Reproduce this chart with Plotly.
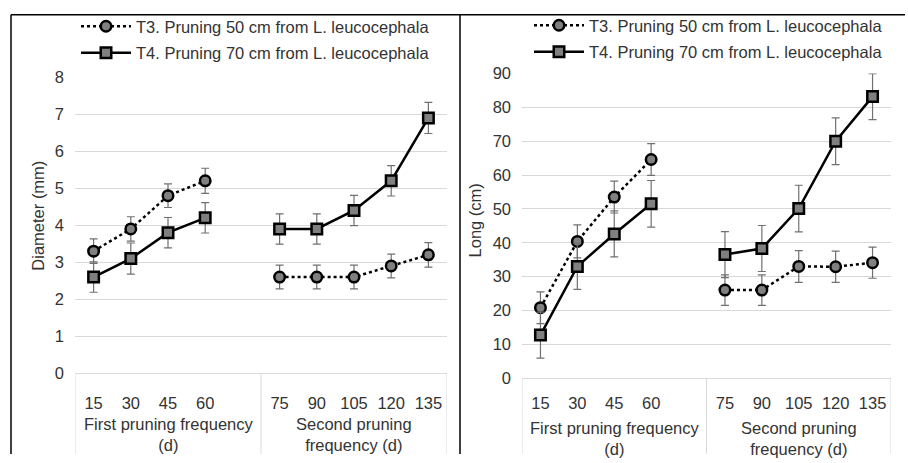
import plotly.graph_objects as go

W, H = 908, 463

# ---------------- data ----------------
categories = ["15", "30", "45", "60", "", "75", "90", "105", "120", "135"]
group_labels = ["First pruning frequency<br>(d)", "Second pruning<br>frequency (d)"]
group_centers = [2, 7]          # category index of group centre
group_divider = 4.5

series_names = ["T3. Pruning 50 cm from L. leucocephala",
                "T4. Pruning 70 cm from L. leucocephala"]

diam_t3 = [3.3, 3.9, 4.8, 5.2, None, 2.6, 2.6, 2.6, 2.9, 3.2]
diam_t4 = [2.6, 3.1, 3.8, 4.2, None, 3.9, 3.9, 4.4, 5.2, 6.9]
diam_t3_err = [0.33, 0.33, 0.32, 0.34, None, 0.32, 0.32, 0.32, 0.32, 0.33]
diam_t4_err = [0.41, 0.42, 0.41, 0.41, None, 0.41, 0.41, 0.41, 0.41, 0.42]

long_t3 = [20.8, 40.4, 53.5, 64.6, None, 26.0, 26.0, 33.0, 32.9, 34.1]
long_t4 = [12.7, 33.0, 42.6, 51.5, None, 36.5, 38.3, 50.1, 70.0, 83.2]
long_t3_err = [4.7, 4.9, 4.7, 4.7, None, 4.5, 4.5, 4.7, 4.6, 4.6]
long_t4_err = [6.8, 6.8, 6.8, 6.9, None, 6.8, 6.8, 6.9, 6.9, 6.8]

y_titles = ["Diameter (mm)", "Long (cm)"]
y_ranges = [(0, 8, 1), (0, 90, 10)]

# ---------------- style ----------------
FONT = "Liberation Sans, Arial, sans-serif"
FS = 16.5
TXT = "#333333"
GRID = "#d9d9d9"
ERR = "#707070"
FILL = "#808080"

xpos = list(range(len(categories)))
tickvals = [i for i, c in enumerate(categories) if c]
ticktext = [c for c in categories if c]

# pixel layout of the two plot areas: (left, right, top, bottom)
panels = [(75, 447, 71, 379), (522, 891, 67.2, 384)]
x_standoff = [15, 10]
group_offset = [41, 41]

fig = go.Figure()

data = [(diam_t3, diam_t3_err, diam_t4, diam_t4_err),
        (long_t3, long_t3_err, long_t4, long_t4_err)]

for p, (t3, t3e, t4, t4e) in enumerate(data):
    xa = "x" if p == 0 else "x2"
    ya = "y" if p == 0 else "y2"
    lg = "legend" if p == 0 else "legend2"
    fig.add_trace(go.Scatter(
        x=xpos, y=t3, mode="lines+markers", name=series_names[0],
        xaxis=xa, yaxis=ya, legend=lg, legendgroup=f"a{p}",
        line=dict(color="black", width=2.5, dash="dot"),
        marker=dict(symbol="circle", size=10.5, color=FILL,
                    line=dict(color="black", width=2.5)),
        error_y=dict(type="data", array=t3e, visible=True, color=ERR,
                     thickness=1.2, width=4),
        connectgaps=False))
    fig.add_trace(go.Scatter(
        x=xpos, y=t4, mode="lines+markers", name=series_names[1],
        xaxis=xa, yaxis=ya, legend=lg, legendgroup=f"b{p}",
        line=dict(color="black", width=2.5),
        marker=dict(symbol="square", size=10.5, color=FILL,
                    line=dict(color="black", width=2.5)),
        error_y=dict(type="data", array=t4e, visible=True, color=ERR,
                     thickness=1.2, width=4),
        connectgaps=False))

layout = dict(
    width=W, height=H, margin=dict(l=0, r=0, t=0, b=0),
    paper_bgcolor="white", plot_bgcolor="white",
    font=dict(family=FONT, size=FS, color=TXT),
    showlegend=True,
)

shapes = []
annotations = []
for p, (l, r, t, b) in enumerate(panels):
    sx = "" if p == 0 else "2"
    y0, y1, dt = y_ranges[p]
    layout[f"xaxis{sx}"] = dict(
        domain=[l / W, r / W], range=[-0.5, len(categories) - 0.5],
        anchor=f"y{sx}", tickmode="array", tickvals=tickvals, ticktext=ticktext,
        showgrid=False, zeroline=False, showline=True, linecolor=GRID,
        linewidth=1, ticks="", ticklabelstandoff=x_standoff[p],
        tickfont=dict(size=FS, color=TXT, family=FONT), fixedrange=True)
    layout[f"yaxis{sx}"] = dict(
        domain=[1 - b / H, 1 - t / H], range=[y0, y1], dtick=dt,
        anchor=f"x{sx}", showgrid=True, gridcolor=GRID, gridwidth=1,
        zeroline=False, showline=False, ticks="", ticklabelstandoff=10,
        tickfont=dict(size=FS, color=TXT, family=FONT), fixedrange=True)
    # category box dividers
    for xv in [-0.5, group_divider, len(categories) - 0.5]:
        shapes.append(dict(type="line", xref=f"x{sx}", yref="paper",
                           x0=xv, x1=xv, y0=0, y1=1 - b / H,
                           line=dict(color=GRID, width=1)))
    # group labels
    for gc, gl in zip(group_centers, group_labels):
        annotations.append(dict(xref=f"x{sx}", yref="paper", x=gc,
                                y=1 - (b + group_offset[p]) / H, yanchor="top",
                                xanchor="center",
                                text=gl, showarrow=False,
                                font=dict(size=FS, color=TXT, family=FONT)))
    # y title
    annotations.append(dict(xref="paper", yref="paper",
                            x=(38 if p == 0 else 475) / W,
                            y=1 - (215 if p == 0 else 220) / H,
                            xanchor="center", yanchor="middle",
                            text=y_titles[p], textangle=-90, showarrow=False,
                            font=dict(size=FS, color=TXT, family=FONT)))

# black panel borders
shapes.append(dict(type="line", xref="paper", yref="paper",
                   x0=11 / W, x1=11 / W, y0=0, y1=1 - 6 / H,
                   line=dict(color="black", width=1.5)))
shapes.append(dict(type="line", xref="paper", yref="paper",
                   x0=460 / W, x1=460 / W, y0=0, y1=1 - 6 / H,
                   line=dict(color="black", width=1.5)))
shapes.append(dict(type="line", xref="paper", yref="paper",
                   x0=11 / W, x1=905 / W, y0=1 - 6 / H, y1=1 - 6 / H,
                   line=dict(color="black", width=1.5)))

layout["shapes"] = shapes
layout["annotations"] = annotations
leg_common = dict(xanchor="left", yanchor="top", bgcolor="rgba(0,0,0,0)",
                  borderwidth=0, font=dict(size=FS, color=TXT, family=FONT),
                  tracegroupgap=2, traceorder="grouped", itemwidth=50)
layout["legend"] = dict(x=76 / W, y=1 - 0 / H, **leg_common)
layout["legend2"] = dict(x=529 / W, y=1 + 1 / H, **leg_common)

fig.update_layout(**layout)
fig.write_html("out.html")
